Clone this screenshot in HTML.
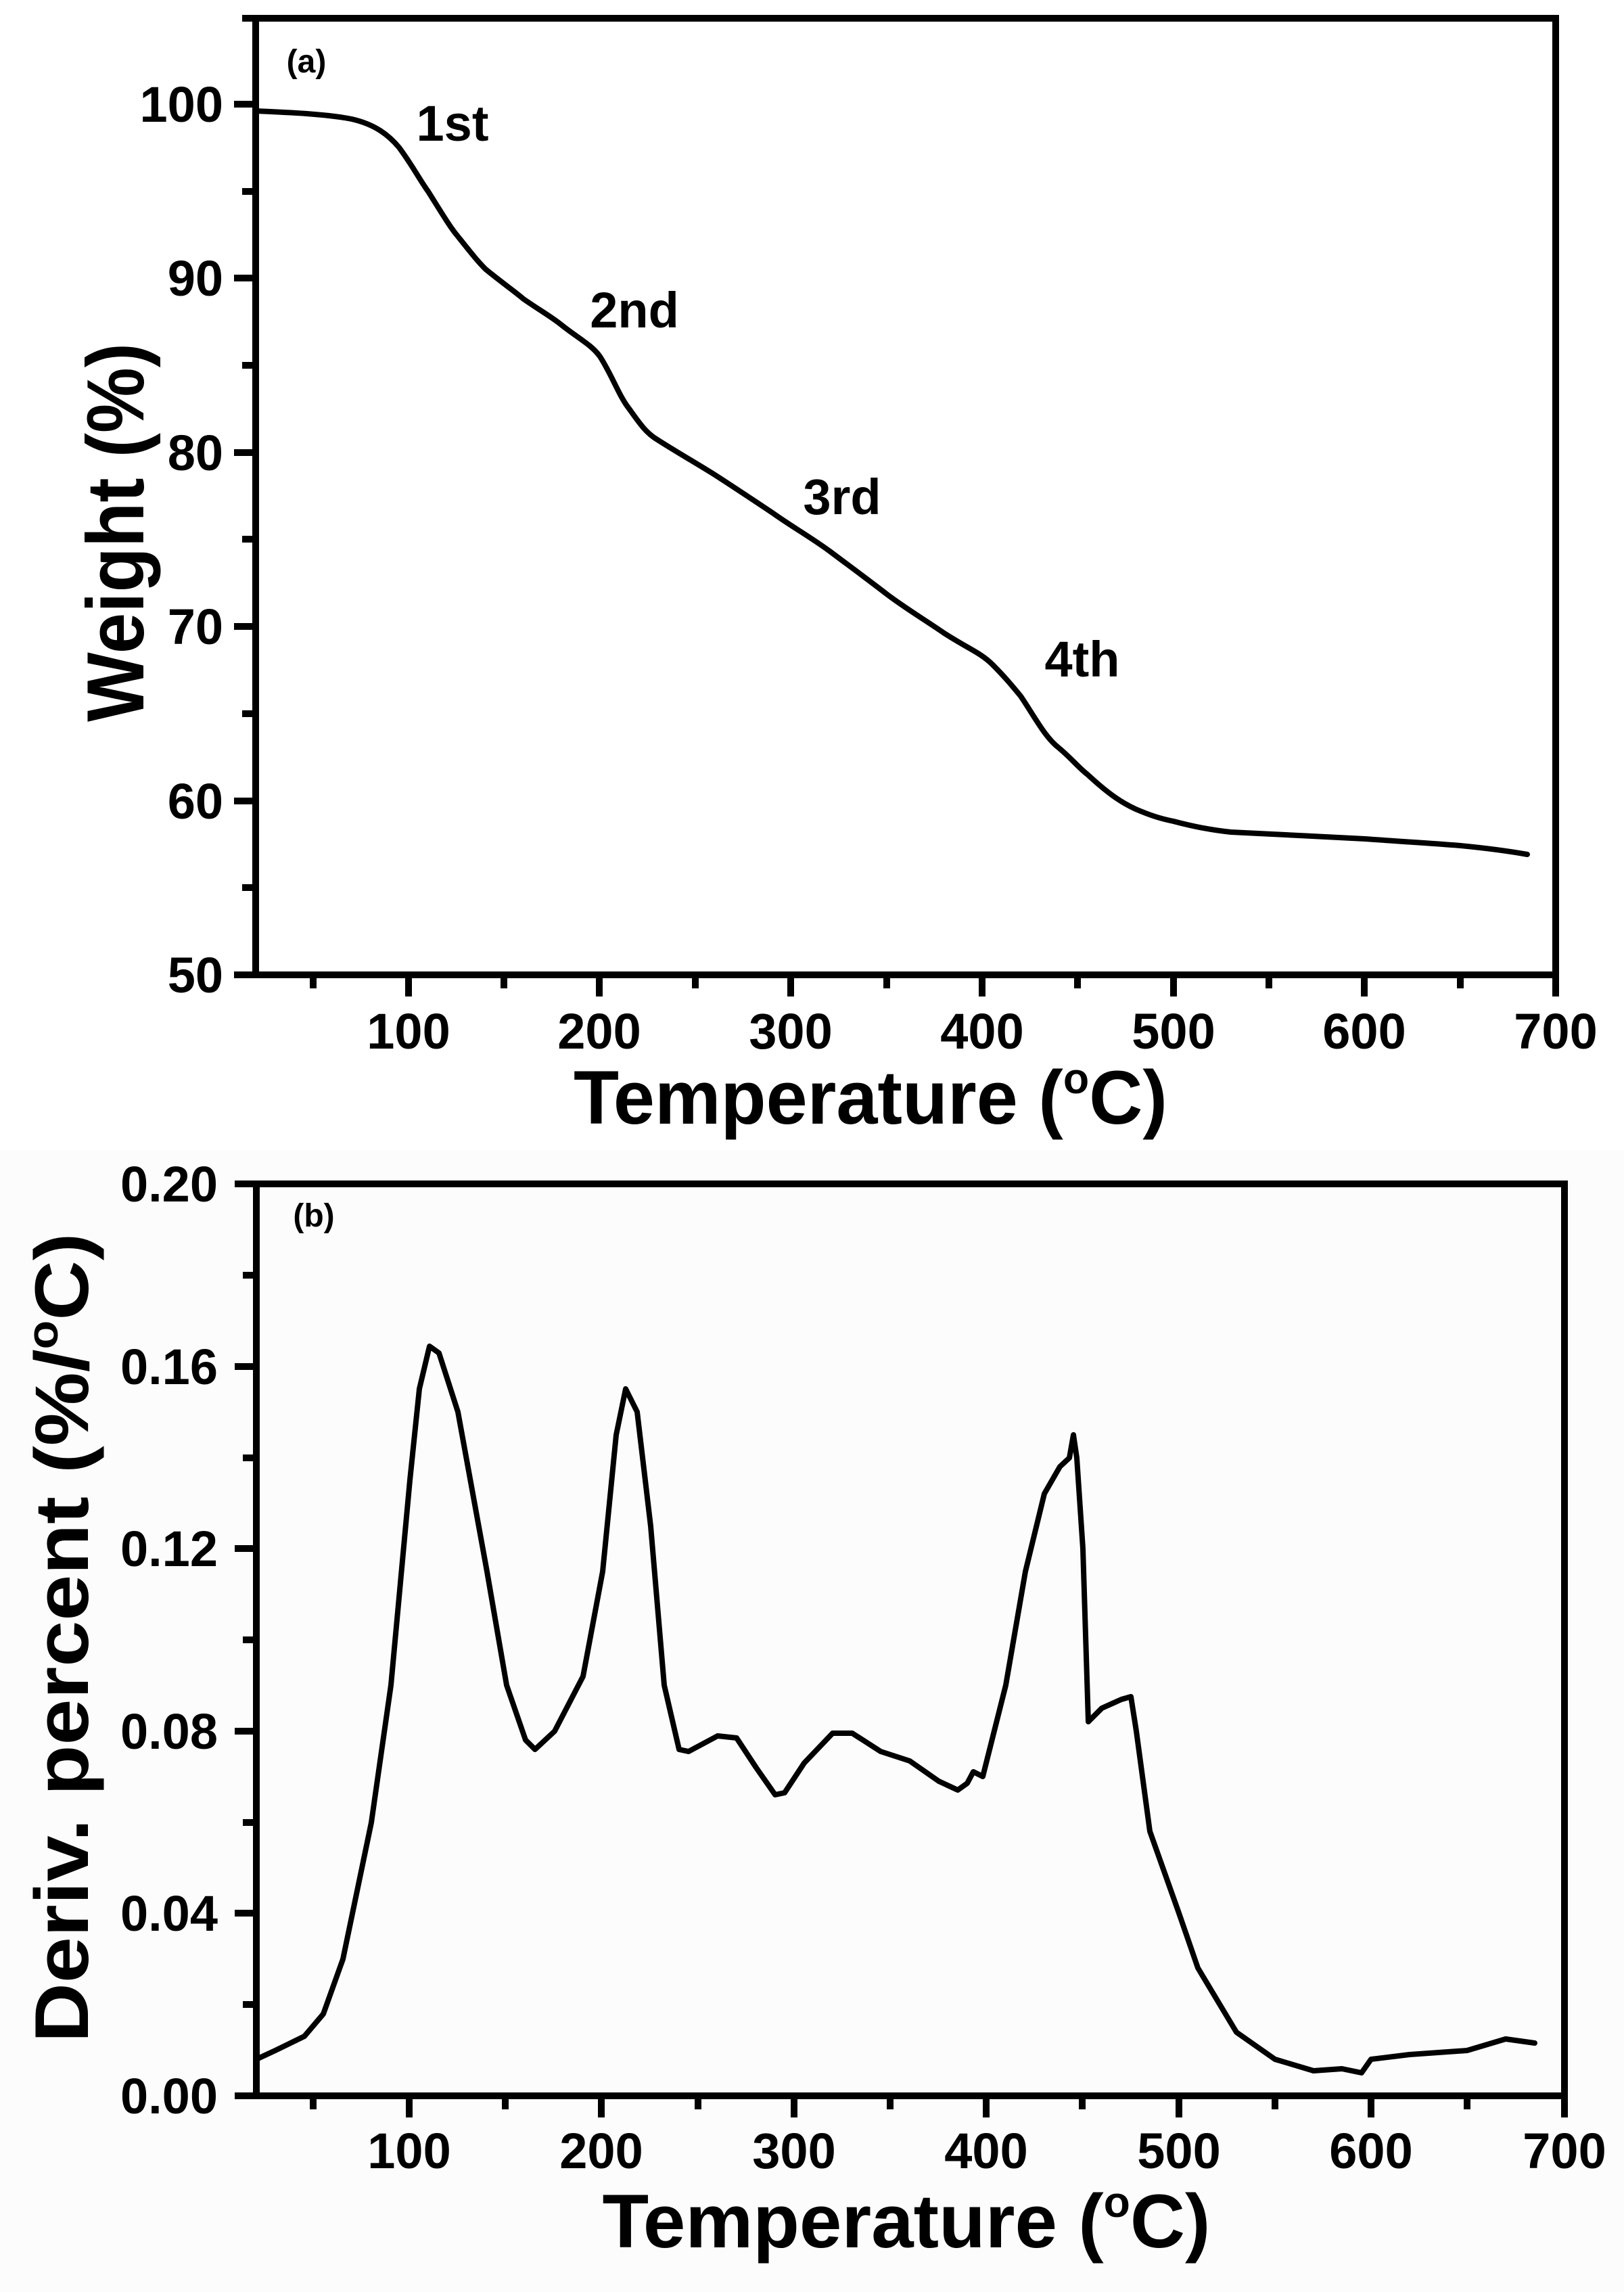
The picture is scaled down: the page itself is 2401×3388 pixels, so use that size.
<!DOCTYPE html>
<html><head><meta charset="utf-8"><style>html,body{margin:0;padding:0;background:#fff}svg{display:block}</style></head>
<body>
<svg width="2401" height="3388" viewBox="0 0 2401 3388" xmlns="http://www.w3.org/2000/svg" font-family="Liberation Sans, Arial, sans-serif" font-weight="bold">
<rect x="0" y="1700" width="2401" height="1688" fill="#fcfcfc"/>
<g id="pa" stroke="#000" stroke-width="10" fill="none" stroke-linecap="butt">
<rect x="378" y="27" width="1922" height="1414"/>
<path d="M604,1441v32M886,1441v32M1169,1441v32M1452,1441v32M1735,1441v32M2017,1441v32M2300,1441v32"/>
<path d="M463,1441v20M745,1441v20M1028,1441v20M1311,1441v20M1593,1441v20M1876,1441v20M2159,1441v20"/>
<path d="M378,154h-32M378,411h-32M378,669h-32M378,926h-32M378,1184h-32M378,1441h-32"/>
<path d="M378,283h-20M378,540h-20M378,797h-20M378,1055h-20M378,1312h-20M378,27h-20"/>
</g>
<path fill="none" stroke="#000" stroke-width="8" stroke-linejoin="round" stroke-linecap="round" d="M378,164 C420,166 480,168 520,176 C555,184 575,200 590,218 C610,245 620,265 633,283 C650,310 665,335 675,347 C695,372 705,385 718,398 C745,420 760,430 774,442 C800,460 815,468 831,481 C855,500 875,510 887,527 C905,555 915,585 930,604 C945,625 955,640 972,650 C1000,668 1030,685 1057,702 C1085,720 1115,740 1142,758 C1170,778 1200,795 1227,815 C1255,836 1285,858 1312,879 C1340,900 1370,918 1396,936 C1430,958 1450,965 1467,982 C1485,1000 1495,1012 1509,1029 C1530,1060 1545,1090 1566,1106 C1585,1122 1595,1135 1608,1145 C1635,1170 1655,1185 1679,1196 C1700,1205 1715,1210 1735,1214 C1765,1222 1790,1227 1820,1230 C1890,1234 1950,1236 2018,1240 C2070,1244 2110,1246 2159,1250 C2200,1254 2230,1258 2258,1263"/>
<g font-size="74" text-anchor="middle">
<text x="604" y="1550">100</text><text x="886" y="1550">200</text><text x="1169" y="1550">300</text><text x="1452" y="1550">400</text><text x="1735" y="1550">500</text><text x="2017" y="1550">600</text><text x="2300" y="1550">700</text>
</g>
<g font-size="74" text-anchor="end">
<text x="330" y="180">100</text><text x="330" y="437">90</text><text x="330" y="695">80</text><text x="330" y="952">70</text><text x="330" y="1210">60</text><text x="330" y="1467">50</text>
</g>
<text x="453" y="107" font-size="48" text-anchor="middle">(a)</text>
<g font-size="74" text-anchor="middle">
<text x="669" y="208">1st</text><text x="938" y="484">2nd</text><text x="1245" y="760">3rd</text><text x="1600" y="1000">4th</text>
</g>
<text x="1287" y="1661" font-size="112" text-anchor="middle" textLength="878" lengthAdjust="spacingAndGlyphs">Temperature (<tspan font-size="64" dy="-45">o</tspan><tspan dy="45">C)</tspan></text>
<text transform="translate(212,787) rotate(-90)" font-size="120" text-anchor="middle" textLength="560" lengthAdjust="spacingAndGlyphs">Weight (%)</text>

<g stroke="#000" stroke-width="10" fill="none">
<rect x="379" y="1750" width="1934" height="1348"/>
<path d="M605,3098v32M889,3098v32M1174,3098v32M1458,3098v32M1743,3098v32M2027,3098v32M2313,3098v32"/>
<path d="M463,3098v20M747,3098v20M1032,3098v20M1316,3098v20M1600,3098v20M1885,3098v20M2169,3098v20"/>
<path d="M379,3098h-32M379,2828h-32M379,2559h-32M379,2289h-32M379,2020h-32M379,1750h-32"/>
<path d="M379,2963h-20M379,2694h-20M379,2424h-20M379,2155h-20M379,1885h-20"/>
</g>
<path fill="none" stroke="#000" stroke-width="8" stroke-linejoin="round" stroke-linecap="round" d="M379,3044 L407,3031 L450,3010 L478,2977 L507,2896 L549,2694 L578,2491 L606,2188 L620,2053 L635,1990 L649,2000 L677,2087 L720,2323 L749,2491 L777,2572 L791,2586 L820,2559 L862,2478 L891,2323 L911,2121 L925,2053 L942,2087 L962,2256 L982,2491 L1004,2586 L1018,2589 L1061,2566 L1089,2569 L1118,2613 L1146,2653 L1160,2650 L1189,2606 L1231,2562 L1260,2562 L1302,2589 L1345,2603 L1388,2633 L1416,2646 L1430,2636 L1439,2619 L1453,2626 L1487,2491 L1516,2323 L1544,2208 L1567,2168 L1581,2155 L1587,2121 L1592,2155 L1601,2289 L1609,2545 L1629,2525 L1658,2512 L1672,2508 L1680,2559 L1700,2707 L1743,2828 L1771,2909 L1828,3004 L1885,3044 L1942,3061 L1984,3058 L2013,3064 L2027,3044 L2084,3037 L2169,3031 L2226,3014 L2269,3020"/>
<g font-size="74" text-anchor="middle">
<text x="605" y="3205">100</text><text x="889" y="3205">200</text><text x="1174" y="3205">300</text><text x="1458" y="3205">400</text><text x="1743" y="3205">500</text><text x="2027" y="3205">600</text><text x="2313" y="3205">700</text>
</g>
<g font-size="74" text-anchor="end">
<text x="322" y="3124">0.00</text><text x="322" y="2854">0.04</text><text x="322" y="2585">0.08</text><text x="322" y="2315">0.12</text><text x="322" y="2046">0.16</text><text x="322" y="1776">0.20</text>
</g>
<text x="464" y="1813" font-size="48" text-anchor="middle">(b)</text>
<text x="1340" y="3322" font-size="112" text-anchor="middle" textLength="899" lengthAdjust="spacingAndGlyphs">Temperature (<tspan font-size="64" dy="-45">o</tspan><tspan dy="45">C)</tspan></text>
<text transform="translate(130,2421) rotate(-90)" font-size="112" text-anchor="middle" textLength="1197" lengthAdjust="spacingAndGlyphs">Deriv. percent (%/<tspan font-size="64" dy="-45">o</tspan><tspan dy="45">C)</tspan></text>
</svg>
</body></html>
